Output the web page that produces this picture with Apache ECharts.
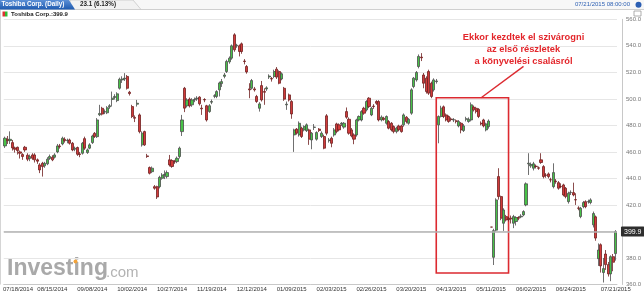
<!DOCTYPE html>
<html><head><meta charset="utf-8">
<script src="https://cdn.jsdelivr.net/npm/echarts@6/dist/echarts.min.js"></script>
<style>html,body{margin:0;padding:0;background:#fff}#c{width:644px;height:295px}</style>
</head><body><div id="c"></div>
<script>
const dates = ["07/18/2014","07/22/2014","07/23/2014","07/24/2014","07/25/2014","07/28/2014","07/29/2014","07/30/2014","07/31/2014","08/01/2014",
"08/04/2014","08/05/2014","08/06/2014","08/07/2014","08/08/2014","08/11/2014","08/12/2014","08/13/2014","08/14/2014","08/15/2014",
"08/18/2014","08/19/2014","08/20/2014","08/21/2014","08/22/2014","08/25/2014","08/26/2014","08/27/2014","08/28/2014","08/29/2014",
"09/01/2014","09/02/2014","09/03/2014","09/04/2014","09/05/2014","09/08/2014","09/09/2014","09/10/2014","09/11/2014","09/12/2014",
"09/16/2014","09/17/2014","09/18/2014","09/19/2014","09/22/2014","09/24/2014","09/25/2014","09/26/2014","09/29/2014","09/30/2014",
"10/01/2014","10/02/2014","10/03/2014","10/06/2014","10/07/2014","10/08/2014","10/09/2014","10/10/2014","10/14/2014","10/15/2014",
"10/16/2014","10/17/2014","10/20/2014","10/21/2014","10/22/2014","10/23/2014","10/24/2014","10/27/2014","10/28/2014","10/29/2014",
"10/30/2014","10/31/2014","11/04/2014","11/05/2014","11/06/2014","11/07/2014","11/10/2014","11/11/2014","11/12/2014","11/13/2014",
"11/14/2014","11/17/2014","11/18/2014","11/19/2014","11/20/2014","11/21/2014","11/25/2014","11/26/2014","11/27/2014","11/28/2014",
"12/01/2014","12/02/2014","12/03/2014","12/04/2014","12/05/2014","12/08/2014","12/09/2014","12/10/2014","12/11/2014","12/12/2014",
"12/15/2014","12/16/2014","12/17/2014","12/18/2014","12/19/2014","12/22/2014","12/24/2014","12/25/2014","12/26/2014","12/29/2014",
"12/30/2014","01/05/2015","01/06/2015","01/07/2015","01/08/2015","01/09/2015","01/13/2015","01/14/2015","01/15/2015","01/16/2015",
"01/19/2015","01/20/2015","01/21/2015","01/22/2015","01/23/2015","01/26/2015","01/27/2015","01/28/2015","01/29/2015","01/30/2015",
"02/02/2015","02/03/2015","02/04/2015","02/05/2015","02/06/2015","02/09/2015","02/10/2015","02/12/2015","02/13/2015","02/16/2015",
"02/17/2015","02/18/2015","02/19/2015","02/20/2015","02/23/2015","02/24/2015","02/25/2015","02/26/2015","02/27/2015","03/02/2015",
"03/03/2015","03/04/2015","03/05/2015","03/06/2015","03/09/2015","03/10/2015","03/11/2015","03/12/2015","03/13/2015","03/16/2015",
"03/17/2015","03/18/2015","03/19/2015","03/20/2015","03/23/2015","03/24/2015","03/25/2015","03/26/2015","03/27/2015","03/30/2015",
"03/31/2015","04/01/2015","04/02/2015","04/03/2015","04/06/2015","04/07/2015","04/08/2015","04/09/2015","04/10/2015","04/13/2015",
"04/14/2015","04/15/2015","04/16/2015","04/17/2015","04/20/2015","04/21/2015","04/22/2015","04/23/2015","04/24/2015","04/27/2015",
"04/28/2015","04/30/2015","05/01/2015","05/07/2015","05/08/2015","05/11/2015","05/12/2015","05/13/2015","05/14/2015","05/15/2015",
"05/18/2015","05/19/2015","05/20/2015","05/21/2015","05/22/2015","05/25/2015","05/26/2015","05/27/2015","05/28/2015","05/29/2015",
"06/01/2015","06/02/2015","06/03/2015","06/04/2015","06/05/2015","06/08/2015","06/09/2015","06/10/2015","06/11/2015","06/12/2015",
"06/15/2015","06/16/2015","06/17/2015","06/18/2015","06/19/2015","06/22/2015","06/23/2015","06/24/2015","06/25/2015","06/26/2015",
"06/29/2015","06/30/2015","07/01/2015","07/02/2015","07/03/2015","07/06/2015","07/07/2015","07/08/2015","07/09/2015","07/10/2015",
"07/13/2015","07/14/2015","07/15/2015","07/16/2015","07/17/2015","07/21/2015"];

const tickDates = ["07/18/2014","08/15/2014","09/08/2014","10/02/2014","10/27/2014","11/19/2014","12/12/2014","01/09/2015",
"02/03/2015","02/26/2015","03/20/2015","04/13/2015","05/11/2015","06/02/2015","06/24/2015","07/21/2015"];

const openP = [464.5,469.5,468.5,467,463,463.5,460,458,463.5,457.5,455,457.7,457.7,454,450.2,451.4,449.5,451,455,456,
456,460,464.5,466,469.5,468.5,469,466.5,462,463.3,458.5,459,470,459.5,462.8,467,474,471.5,488,492.9,
490,489.5,494,499.5,501,498.7,508,514.3,515,516.9,505,494.2,486,496,487.9,465.3,475.3,457,448.2,445.1,
433.8,433.8,433.8,440.1,442.6,441.4,454,453.5,452.7,452.7,456.5,475.3,508,494.8,499.8,495.5,499.2,500,501.3,493,
499.5,494.8,490.4,497.5,502,501.8,506.8,511.5,517,520.6,527.9,530.7,548.3,540,540,541.5,528.5,524.4,507.5,508,
507.5,501.8,492.9,510,505.5,507.5,516.5,515.3,516.9,522.4,520.6,515,508,495.5,503,498,472.8,477.2,472.8,477.9,
476.6,476,476.6,469,478.5,469.6,477.2,471.6,471.6,487.2,468.5,470.3,472.8,481.1,480.4,481.1,478.7,490.4,484.6,476.6,
472.8,472.8,484.1,484.1,492.9,491.7,500.5,487.9,494.5,498,498,484.1,485.4,481.6,482.9,481.6,479.1,475.3,479.6,479.6,
480.4,486.2,481.6,489.2,509.3,514.3,524.4,531.5,518,515.6,520.6,511.8,506.8,513,480.4,486.7,494,487.9,486.7,484.8,
484.1,483.5,479.6,481.6,476.1,484.6,482.9,484.1,493.8,492.9,492.1,481.6,484.1,476.6,479.1,403.3,380.5,401,441.4,426.3,
406.2,411.2,409.5,410,406.2,407.5,410.5,411,412.5,420,451,449.5,447.7,449.2,448,454,448.9,442.6,443.4,439,
433.8,438,436.8,434,435.1,432.6,422.5,429.3,429.3,424,417.7,411.2,418.7,422.5,422.3,421.8,405,411,379.5,390,
369,383,375,368,381,383.3];

const closeP = [470.3,468.5,469.5,463,462,461,459,456.5,461.5,454.5,456.5,455.2,454,453,446.4,448.9,451.4,454.5,456.5,454,
457.7,464.5,464,470.3,468.5,468.8,466.5,461.5,462.8,458.2,458,466.5,462.8,461.5,465.3,472,471.6,484.1,489,488.5,
490.4,493.3,494.8,500.5,501.8,503.8,514.8,515,515.6,508,504,486.7,485.4,496.7,475.3,474.1,465.3,456.5,443.9,447.7,
432.6,426,440.8,442.6,443,444.4,450.2,449,452.5,455.2,462.8,484.1,493,499.2,494.8,499.2,499.5,500.5,496.3,492.5,
499.2,484.1,494.8,498,502.3,505.5,512,513,518,528.2,530.7,540,537,540.5,535.7,535.7,528.2,520.3,506.8,513.8,
506.8,498,496.2,499.2,505,508.3,517.2,515,520.6,516.4,511.8,518.9,499.8,496,499.2,488.6,476.6,474.1,481.6,471.6,
479.1,480.4,469.6,474.1,478.7,474.6,476.1,474.1,462.8,474.1,469,466.5,476.6,475.3,476.6,481.6,481.6,486.2,474.1,472.1,
469.6,484.1,486.7,490.4,489.2,498,494.2,492.9,494.2,496.7,484.1,486.2,484.5,486.7,477.9,476.6,475.3,477.9,476.6,475.3,
487.9,482.9,484.6,506.8,515.6,519.9,532,531,511.8,505.5,504.3,501.8,514.3,513.5,486.7,493,486.7,484.1,482.9,484.4,
484.3,482.9,482.9,476.6,479.6,485,484.6,495.5,491.7,490.4,486.7,481.1,479.6,481.1,483.3,403.3,400.6,423.8,426.3,410,
416.2,408.7,409,409.5,411.2,410.5,410,411.5,415,435.9,451.5,450.5,451,449,447.7,452,441.4,442.3,441.4,438.9,
444.4,437.6,432.6,433.8,427.5,426.3,428.8,429.5,427.5,423.8,417.5,417.5,421.8,418.7,422.5,423.8,413.5,395,386,374,
372,375,368,381,376.8,399.9];

const lowP = [463,466,466,461,459.5,458,455,454,460,453,453,454,452,451,444,441.4,448,450,454,453,
455,459,462.5,465,467,466.5,465.5,460.5,460.5,457,456,458,461.5,458.5,462,466,470.5,470.5,487,487.5,
488.5,488.5,492.5,494.2,499.5,497.5,507,512,513.5,507,502.5,485.5,482.5,494.2,474,464,464.5,455.5,443,444,
431.5,424.5,432.5,439,439.5,440,449,448,451,451.5,455,472,490,493.5,493.5,494,497.5,498.5,495,487.9,
497.5,482.9,489.5,496,500.5,500.5,501.8,509,515.5,519.5,526.5,529.5,535.5,538.5,532,534,526,519,500.5,507,
505.5,497,490.4,498,495.5,506,515,513,515.6,515,511,514,498.5,491.7,498,485,460,473,471.5,470.5,
475.5,475,465.3,462,476.5,468.5,475,470.5,462,472.5,467,463.5,471.5,474,475.5,479.5,477.5,485,473,471,
465.8,471.5,483,483,488,490.5,493,487,492.5,495.5,483,483,483.5,480.5,477,475.5,474,474,475.5,474.5,
479,481.5,480.5,488,508,513,523,528.5,508,504,503,500.5,505.5,511.5,466.5,486,485.5,483,482,483,
482.5,481.5,478.5,474,475,483,482,483,490.5,489,485.5,480,478.5,475.5,477.5,403.3,374.7,400,424,408.5,
400.4,407.5,407.5,406,402.5,404.5,408.5,410,411.5,419,442.6,448,446,447.5,446.5,451,440,440.5,440,437,
432.5,436,431.5,432.6,426.5,425,421,427.5,426.5,420,416,410,417.5,417.5,421,420.5,403,393,374,369,
361.5,371,366,362.5,370,378];

const highP = [471.5,472,475.5,469,464,464,461,459,464.5,459,458,459,459,455,451.5,452.5,452.5,456,458,457.5,
459,466,466,471.5,471,470,470,467.5,464,464,460,467.5,471.5,462.5,466.5,473,475,485.5,495.5,494,
492,494.5,496,505.5,503.5,505,516,517,519.4,518,506,495.5,487.5,499.2,489,475.5,476,458.5,449,449,
435,434.5,442,444,446,446,457.7,454.5,454,456.5,464,487.9,509,500.5,501,500.5,501,502,502,495.5,
500.5,495.5,496,499.5,503.5,506.5,513,515,519.5,529.5,532,541,549.5,541.5,541,542.5,530,525.5,511.8,515,
509,503,497.5,513.5,508,509.5,518.5,516.5,522,524,521.5,520,509,498,504,499,477.5,478,483,479,
480,481.5,477.5,475,481,475.5,478,475.5,473,488.5,470.5,471.5,478,482,481.5,482.5,482.5,493.5,486,478,
474,485,487.5,491.5,494,499,501.3,494,496,499,499,487.5,486.5,487.5,484,482.5,480,479,480.5,480.5,
489,487,485.5,508,516.5,521,533.5,534.5,519.5,517,522,513,515.5,515,487.5,494.8,495,489,487.5,486,
485.5,484.5,484,482.5,481,486.5,486,497.3,495,494,493,483,485,482,484.5,403.3,402,425,447.7,427,
417.5,412.5,411,412,412.5,411.5,411.5,413,416,437,459,452,452.5,450.5,449,459,450,444,444.5,440.5,
451.4,439.5,438,436.3,436,433.5,430,431,436.8,428.8,419,418.5,423,423.5,424,425,415,412,391,391,
380,386,377,382,383,401];

const lastPrice = 399.9;
const change = "23.1 (6.13%)";
const noteText = "Ekkor kezdtek el szivárogni\naz első részletek\na könyvelési csalásról";

const ohlc = dates.map((d, i) => [openP[i], closeP[i], lowP[i], highP[i]]);
const tickSet = new Set(tickDates);

const chart = echarts.init(document.getElementById('c'), null, {renderer: 'canvas'});
const FONT = "'Liberation Sans', Arial, sans-serif";

chart.setOption({
  animation: false,
  backgroundColor: '#ffffff',
  grid: {left: 3.45, right: 27, top: 19.3, bottom: 10.5, show: false},
  xAxis: {
    type: 'category', data: dates, boundaryGap: true,
    axisLine: {show: true, lineStyle: {color: '#c8c8c8', width: 1}},
    axisTick: {show: false},
    splitLine: {show: false},
    axisLabel: {
      fontSize: 6, color: '#333', fontFamily: FONT, margin: 1.5,
      interval: (idx, val) => tickSet.has(val),
      formatter: (val, idx) => idx === 0 ? '{first|' + val + '}' : val,
      rich: {first: {fontSize: 6, color: '#333', fontFamily: FONT, padding: [0, 0, 0, 26]}}
    }
  },
  yAxis: {
    type: 'value', position: 'right', min: 360, max: 560, interval: 20, offset: 5,
    axisLine: {show: true, lineStyle: {color: '#c8c8c8', width: 1}},
    axisTick: {show: false},
    axisLabel: {fontSize: 6, color: '#777', fontFamily: FONT, margin: 4,
      formatter: v => v.toFixed(1)},
    splitLine: {show: true, lineStyle: {color: '#e6e6e6', width: 1}}
  },
  series: [{
    type: 'candlestick',
    data: ohlc,
    barWidth: 2.6,
    itemStyle: {color: '#47c247', color0: '#d23a3a', borderColor: '#4b4b4b', borderColor0: '#6e1f1f', borderWidth: 0.8},
    markArea: {
      silent: true,
      itemStyle: {color: 'rgba(0,0,0,0)', borderColor: '#dc2a30', borderWidth: 1.6},
      data: [[{xAxis: dates[173], yAxis: 500.8}, {xAxis: dates[202], yAxis: 368.7}]]
    },
    markLine: {
      silent: true, symbol: ['none', 'none'],
      data: [
        {yAxis: lastPrice,
         lineStyle: {color: '#b3b3b3', width: 1.5, type: 'solid'},
         label: {show: true, position: 'end', formatter: lastPrice.toFixed(1), color: '#fff',
           backgroundColor: '#2e2e2e', padding: [2, 3, 1, 3], fontSize: 7, fontFamily: FONT, distance: 4, borderRadius: 1}},
        [{coord: [dates[191], 500.8], lineStyle: {color: '#dc2a30', width: 1.4, type: 'solid'}, label: {show: false}},
         {coord: [dates[208], 524.5]}]
      ]
    },
    markPoint: {
      silent: true, symbol: 'circle', symbolSize: 0.01,
      data: [{coord: [dates[208], 537.2], itemStyle: {color: 'rgba(0,0,0,0)'},
        label: {show: true, position: 'inside', formatter: noteText, color: '#e3262b', fontSize: 9.3,
          fontWeight: 'bold', lineHeight: 12, align: 'center', fontFamily: FONT}}]
    }
  }],
  graphic: [
    {type: 'text', left: 7, top: 257, z: -1, silent: true,
     style: {text: 'Investing', font: "bold 23px 'Liberation Sans', Arial", fill: '#a9a9a9'}},
    {type: 'text', left: 106, top: 265, z: -1, silent: true,
     style: {text: '.com', font: "15px 'Liberation Sans', Arial", fill: '#b3b3b3'}},
    {type: 'circle', shape: {cx: 75.5, cy: 261.5, r: 2}, z: -1, silent: true, style: {fill: '#f2a33a'}},
    {type: 'rect', shape: {x: 0, y: 0, width: 644, height: 9.5}, style: {fill: '#f7f7f7'}, silent: true},
    {type: 'line', shape: {x1: 0, y1: 9.5, x2: 644, y2: 9.5}, style: {stroke: '#cfcfcf', lineWidth: 1}, silent: true},
    {type: 'polygon', shape: {points: [[70, 0], [133, 0], [141, 9.5], [70, 9.5]]},
     style: {fill: '#f2f2f2', stroke: '#c9c9c9', lineWidth: 0.8}, silent: true},
    {type: 'polygon', shape: {points: [[0, 0], [69, 0], [75, 9.5], [0, 9.5]]},
     style: {fill: new echarts.graphic.LinearGradient(0, 0, 0, 1, [{offset: 0, color: '#5b8fd6'}, {offset: 1, color: '#1f5bb0'}])}, silent: true},
    {type: 'text', left: 1.5, top: 1.6, style: {text: 'Toshiba Corp. (Daily)', font: "bold 6.3px 'Liberation Sans', Arial", fill: '#ffffff'}, silent: true},
    {type: 'text', left: 80, top: 1.6, style: {text: change, font: "bold 6.3px 'Liberation Sans', Arial", fill: '#222'}, silent: true},
    {type: 'text', right: 14, top: 1.8, style: {text: '07/21/2015 08:00:00', font: "6px 'Liberation Sans', Arial", fill: '#2c5fb3'}, silent: true},
    {type: 'circle', shape: {cx: 638.5, cy: 4.8, r: 3}, style: {fill: '#2c5fb3'}, silent: true},
    {type: 'rect', shape: {x: 2.5, y: 11.5, width: 2.5, height: 5}, style: {fill: '#d33'}, silent: true},
    {type: 'rect', shape: {x: 5, y: 11.5, width: 2.5, height: 5}, style: {fill: '#3b3'}, silent: true},
    {type: 'text', left: 11, top: 11.2, style: {text: 'Toshiba Corp.:' + lastPrice.toFixed(1), font: "bold 6px 'Liberation Sans', Arial", fill: '#222'}, silent: true},
    {type: 'rect', shape: {x: 634, y: 11, width: 7, height: 5}, style: {fill: '#fff', stroke: '#999', lineWidth: 0.8}, silent: true},
    {type: 'line', shape: {x1: 0.5, y1: 10, x2: 0.5, y2: 284.5}, style: {stroke: '#d5d5d5', lineWidth: 1}, silent: true}
  ]
});
</script></body></html>
